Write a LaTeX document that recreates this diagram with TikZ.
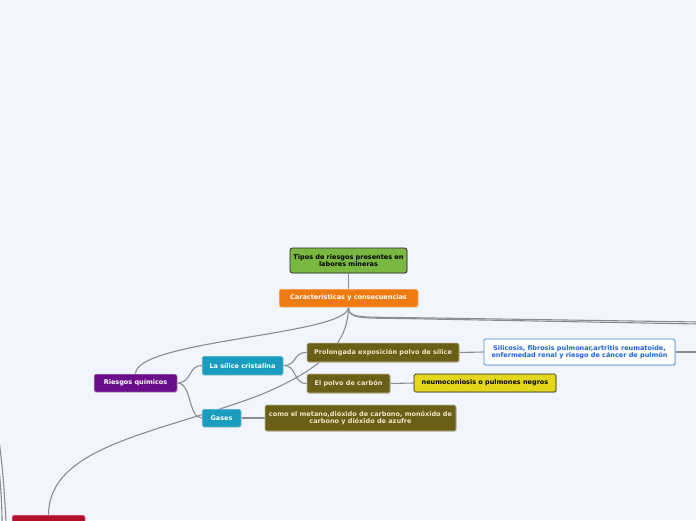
\documentclass[tikz,border=0pt]{standalone}
\usepackage{fontspec}
\newfontfamily\dv{DejaVu Sans}
\usetikzlibrary{shadows,backgrounds}
\definecolor{bg}{HTML}{F2F5FD}
\definecolor{conn}{HTML}{8C8C96}
\definecolor{cgreen}{HTML}{7BB842}
\definecolor{corange}{HTML}{EE7A12}
\definecolor{cpurple}{HTML}{6B0D8B}
\definecolor{cteal}{HTML}{1A9CBE}
\definecolor{colive}{HTML}{6A5F16}
\definecolor{colivetxt}{HTML}{EEE6C6}
\definecolor{cyellow}{HTML}{E5D81C}
\definecolor{cblue}{HTML}{3C8FEA}
\definecolor{cbluetxt}{HTML}{1F62D6}
\definecolor{cred}{HTML}{B40F2B}
\tikzset{
  box/.style={rectangle, rounded corners=1.5pt, inner sep=0pt, align=center,
    font=\dv\bfseries\fontsize{6.5}{7.3}\selectfont,
    drop shadow={shadow xshift=0.8pt, shadow yshift=-0.8pt, fill=black!22, opacity=0.6}},
  greenbox/.style={box, fill=cgreen, draw=black!85, line width=0.8pt, rounded corners=2.5pt, text=black},
  orangebox/.style={box, fill=corange, draw=white!80!corange, line width=0.5pt, text=white},
  purplebox/.style={box, fill=cpurple, draw=white!70!cpurple, line width=0.5pt, text=white},
  tealbox/.style={box, fill=cteal, draw=white!70!cteal, line width=0.5pt, text=white},
  olivebox/.style={box, fill=colive, draw=white!55!colive, line width=0.6pt, text=colivetxt},
  yellowbox/.style={box, fill=cyellow, draw=black!85, line width=0.7pt, text=black},
  bluebox/.style={box, fill=white, draw=cblue, line width=0.8pt, text=cbluetxt},
  redbox/.style={box, fill=cred, draw=white!70!cred, line width=0.5pt},
  link/.style={draw=conn, line width=1.1pt},
}
\begin{document}
\begin{tikzpicture}[x=1pt,y=-1pt]
\useasboundingbox (0,0) rectangle (696,520);

% free-end coordinates
\coordinate (rA) at (698,322);
\coordinate (rB) at (698,324);
\coordinate (rS) at (698,352);
\coordinate (lA1) at (-1,440);
\coordinate (lA2) at (6,523);
\coordinate (lB1) at (-1,468);
\coordinate (lB2) at (2,523);

\node[greenbox, minimum width=117pt, minimum height=25pt] (tipos) at (348.5,260.5) {Tipos de riesgos presentes en\\labores mineras};
\node[orangebox, minimum width=139pt, minimum height=18pt] (carac) at (348.5,298) {Características y consecuencias};
\node[purplebox, minimum width=83pt, minimum height=18pt] (riesgos) at (135.5,383) {Riesgos químicos};
\node[tealbox, minimum width=81pt, minimum height=19pt] (silice) at (242.5,365.5) {La sílice cristalina};
\node[tealbox, minimum width=39pt, minimum height=18pt] (gases) at (221.5,418) {Gases};
\node[olivebox, minimum width=152pt, minimum height=19pt] (prolong) at (383,352.5) {Prolongada exposición polvo de sílice};
\node[olivebox, minimum width=83pt, minimum height=19pt] (polvo) at (348.5,383.5) {El polvo de carbón};
\node[bluebox, minimum width=191pt, minimum height=26pt] (silicosis) at (579.5,352) {Silicosis, fibrosis pulmonar,artritis reumatoide,\\enfermedad renal y riesgo de cáncer de pulmón};
\node[yellowbox, minimum width=142pt, minimum height=18pt] (neumo) at (485,383) {neumoconiosis o pulmones negros};
\node[olivebox, minimum width=191pt, minimum height=26pt] (como) at (360.5,418) {como el metano,dióxido de carbono, monóxido de\\carbono y dióxido de azufre};
\node[redbox, minimum width=73pt, minimum height=24pt] (red) at (48.5,527) {};

\begin{scope}[on background layer]
\fill[bg] (0,0) rectangle (696,520);
\draw[link] (tipos.south) -- (carac.north);
\draw[link] (carac.south) .. controls (348,335) and (136,340) .. (riesgos.north);
\draw[link] (carac.south) .. controls (348,345) and (320,370) .. (260,395)
   .. controls (160,433) and (49,445) .. (red.north);
\draw[link] (carac.south) .. controls (348,318) and (360,317) .. (400,317.5) -- (rA);
\draw[link] (carac.south) .. controls (348,319) and (362,318) .. (400,318.5) -- (rB);
\draw[link] (riesgos.east) .. controls (192,383) and (188,365.5) .. (silice.west);
\draw[link] (riesgos.east) .. controls (192,383) and (188,418) .. (gases.west);
\draw[link] (silice.east) .. controls (298,365.5) and (292,352.5) .. (prolong.west);
\draw[link] (silice.east) .. controls (298,365.5) and (292,383.5) .. (polvo.west);
\draw[link] (prolong.east) -- (silicosis.west);
\draw[link] (silicosis.east) -- (rS);
\draw[link] (polvo.east) -- (neumo.west);
\draw[link] (gases.east) -- (como.west);
\draw[link] (lA1) .. controls (3,470) and (5,500) .. (lA2);
\draw[link] (lB1) .. controls (1,490) and (2,505) .. (lB2);
\end{scope}
\end{tikzpicture}
\end{document}
